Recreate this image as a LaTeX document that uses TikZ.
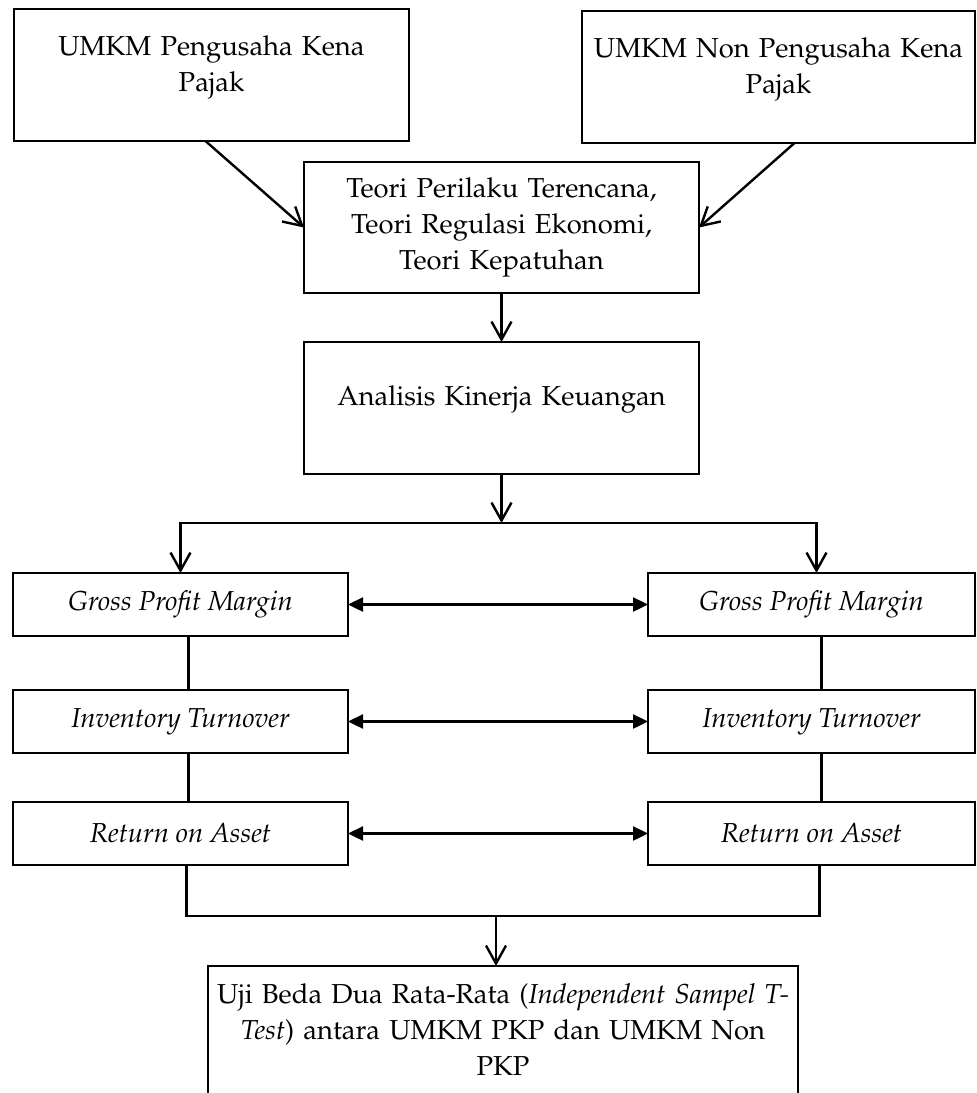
\documentclass[tikz,border=0pt]{standalone}
\usepackage[T1]{fontenc}
\usepackage{mathpazo}
\usetikzlibrary{arrows.meta,positioning}

\begin{document}
\begin{tikzpicture}[x=0.5pt,y=-0.5pt,
        font=\fontsize{13.7}{18}\selectfont,
        box/.style={draw, line width=1.2pt, outer sep=0pt, inner sep=0pt, align=center},
        metric/.style={box, font=\fontsize{13.7}{18}\selectfont\itshape, minimum height=31.5pt},
        flow/.style={-{Straight Barb[length=9pt,width=10pt]}, line width=1.2pt},
        both/.style={{Triangle[length=7.5pt,width=7pt]}-{Triangle[length=7.5pt,width=7pt]}, line width=1.2pt},
        tie/.style={line width=1.2pt}]
            \path [use as bounding box, clip] (0,0) rectangle (976,1093);

            \node (pkp) [box, anchor=north, text width=197.5pt, text height=23pt, text depth=43pt] at (211.5,9) {UMKM Pengusaha Kena\\Pajak};
            \node (npkp) [box, anchor=north, text width=196.5pt, text height=23pt, text depth=43pt] at (778.5,11) {UMKM Non Pengusaha Kena\\Pajak};
            \node (teori) [box, anchor=north, text width=197.5pt, text height=17.5pt, text depth=48pt] at (501.5,162) {Teori Perilaku Terencana,\\Teori Regulasi Ekonomi,\\Teori Kepatuhan};
            \node (analisis) [box, below=24.5pt of teori, text width=197.5pt, text height=31.5pt, text depth=34.5pt] {Analisis Kinerja Keuangan};

            \node (gpmL) [metric, minimum width=167.5pt, anchor=north] at (180.5,573) {Gross Profit Margin};
            \node (itL) [metric, minimum width=167.5pt, below=27pt of gpmL] {Inventory Turnover};
            \node (roaL) [metric, minimum width=167.5pt, below=24.5pt of itL] {Return on Asset};
            \node (gpmR) [metric, minimum width=163.5pt, anchor=north] at (811.5,573) {Gross Profit Margin};
            \node (itR) [metric, minimum width=163.5pt, below=27pt of gpmR] {Inventory Turnover};
            \node (roaR) [metric, minimum width=163.5pt, below=24.5pt of itR] {Return on Asset};

            \node (uji) [box, anchor=north, text width=295pt, text height=18.5pt, text depth=60pt] at (503,966) {Uji Beda Dua Rata-Rata (\textit{Independent Sampel T-}\\\textit{Test}) antara UMKM PKP dan UMKM Non\\PKP};

            \coordinate (split) at ([yshift=-24.5pt]analisis.south);
            \coordinate (join) at (496,916);

            \draw [flow] ([xshift=-3pt]pkp.south) -- (teori.west);
            \draw [flow] ([xshift=8pt]npkp.south) -- (teori.east);
            \draw [flow] (teori) -- (analisis);
            \draw [flow] (analisis) -- (split);
            \draw [flow] (split) -| (gpmL);
            \draw [flow] (split) -| ([xshift=2.5pt]gpmR.north);

            \draw [both] (gpmL) -- (gpmR);
            \draw [both] (itL) -- (itR);
            \draw [both] (roaL) -- (roaR);

            \draw [tie] ([xshift=4pt]gpmL.south) -- ([xshift=4pt]itL.north);
            \draw [tie] ([xshift=4pt]itL.south) -- ([xshift=4pt]roaL.north);
            \draw [tie] ([xshift=5pt]gpmR.south) -- ([xshift=5pt]itR.north);
            \draw [tie] ([xshift=5pt]itR.south) -- ([xshift=5pt]roaR.north);
            \draw [tie] ([xshift=3pt]roaL.south) |- (join) -| ([xshift=4pt]roaR.south);
            \draw [flow] (join) -- (join |- uji.north);
\end{tikzpicture}
\end{document}
